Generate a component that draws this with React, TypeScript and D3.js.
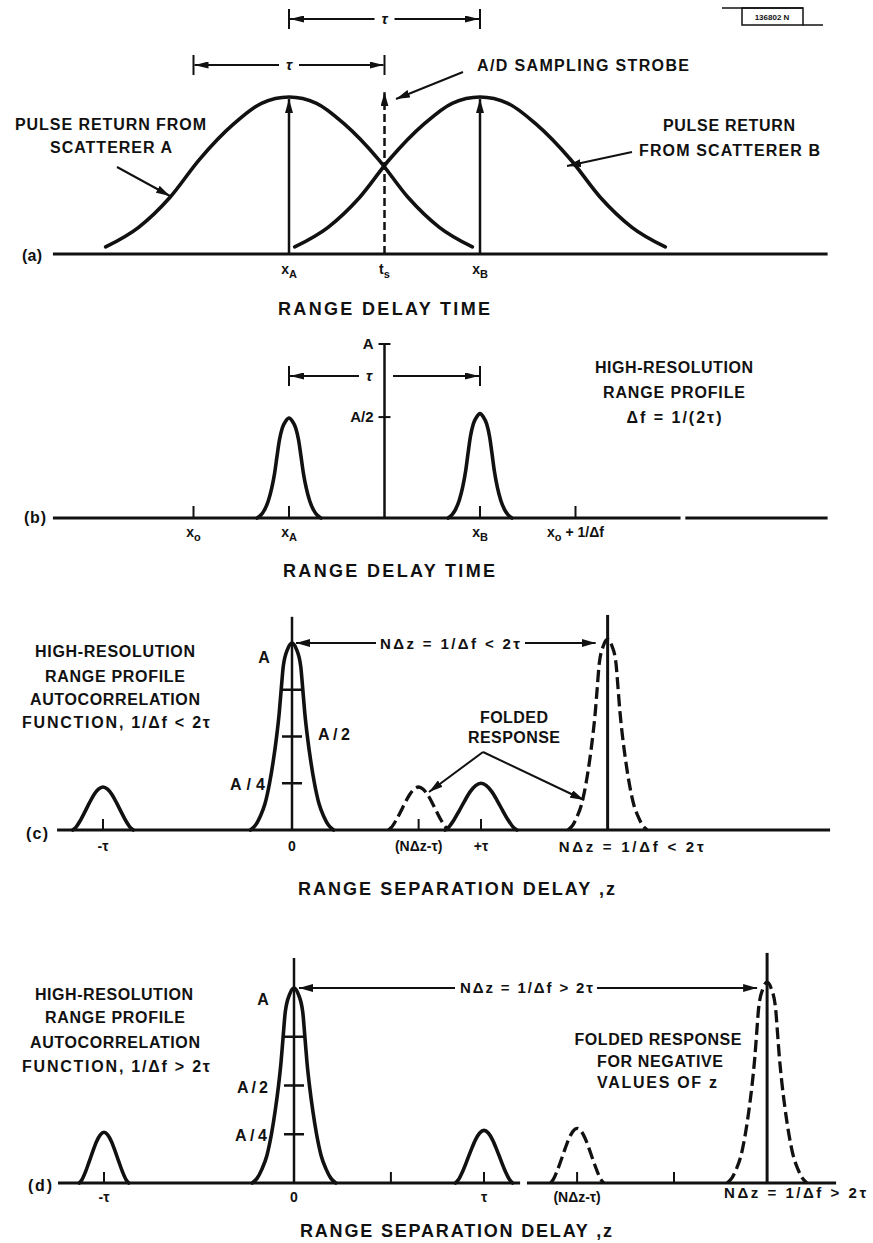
import React from "react";
import * as d3 from "d3";

const W = 873;
const H = 1243;

// Normalised pulse profiles: offset / half-width -> height / peak
const wideU = [0, 0.15, 0.3, 0.49, 0.65, 0.82, 1.0];
const wideV = [1, 0.96, 0.83, 0.6, 0.36, 0.17, 0.045];
const narrowU = [0, 0.1, 0.21, 0.3, 0.375, 0.45, 0.54, 0.65, 0.77, 0.88, 1];
const narrowV = [1, 0.97, 0.9, 0.78, 0.62, 0.45, 0.3, 0.17, 0.08, 0.03, 0];
const mainU = [0, 0.1, 0.21, 0.26, 0.31, 0.37, 0.45, 0.54, 0.65, 0.77, 0.88, 1];
const mainV = [1, 0.97, 0.875, 0.75, 0.62, 0.5, 0.37, 0.25, 0.14, 0.07, 0.025, 0];
const sideU = [0, 0.15, 0.3, 0.45, 0.6, 0.75, 0.9, 1];
const sideV = [1, 0.95, 0.82, 0.63, 0.42, 0.22, 0.06, 0];

// Panel (a): range delay time, units of tau, x0 = 0.5
const aCenters = [1, 2];
const aHeights = [1, 1];
const aHalfWidths = [0.96, 0.97];
const aStrobe = 1.5;
const aStrobeTop = 1.03;
const aBaseline = [-0.236, 3.82];
const aTickVals = [1, 1.5, 2];
const aTickMain = ["x", "t", "x"];
const aTickSub = ["A", "s", "B"];

// Panel (b)
const bCenters = [1, 2];
const bHeights = [0.575, 0.6];
const bHalfWidths = [0.167, 0.167];
const bBaseline = [[-0.236, 3.05], [3.075, 3.82]];
const bTickVals = [0.5, 1, 2, 2.5];
const bTickMain = ["x", "x", "x", "x"];
const bTickSub = ["o", "A", "B", "o"];
const bTickTail = ["", "", "", " + 1/Δf"];
const bAxisAt = 1.5;
const bAxisLevels = [1, 0.58];
const bAxisLabels = ["A", "A/2"];

// Panel (c): range separation delay z, units of tau
const cNdz = 1.67;
const cSolidCenters = [-1, 0, 1];
const cSolidHeights = [0.23, 1, 0.25];
const cSolidHW = [0.16, 0.22, 0.19];
const cDashCenters = [0.67, 1.67];
const cDashHeights = [0.23, 1.02];
const cDashHW = [0.16, 0.21];
const cBaseline = [[-1.243, 2.847]];
const cTickVals = [-1, 0.67, 1];
const cTickLabels = ["-τ", "0", "(NΔz-τ)", "+τ"];
const cTickLabelVals = [-1, 0, 0.67, 1];
const cAxisTop = 1.14;
const cNdzTop = 1.15;

// Panel (d)
const dNdz = 2.49;
const dSolidCenters = [-1, 0, 1];
const dSolidHeights = [0.26, 1, 0.27];
const dSolidHW = [0.13, 0.22, 0.15];
const dDashCenters = [1.49, 2.49];
const dDashHeights = [0.28, 1.03];
const dDashHW = [0.14, 0.21];
const dBaseline = [[-1.242, 1.19], [1.226, 2.853]];
const dTickVals = [-1, 0.51, 1, 1.49, 2.0];
const dTickLabels = ["-τ", "0", "τ", "(NΔz-τ)"];
const dTickLabelVals = [-1, 0, 1, 1.49];
const dAxisTop = 1.154;
const dNdzTop = 1.18;

const mainLevels = [0.75, 0.5, 0.25];

type S = (v: number) => number;

function pulse(c: number, h: number, hw: number, U: number[], V: number[], xs: S, ys: S) {
  const pts: [number, number][] = [];
  for (let i = U.length - 1; i > 0; i--) pts.push([xs(c - U[i] * hw), ys(V[i] * h)]);
  for (let i = 0; i < U.length; i++) pts.push([xs(c + U[i] * hw), ys(V[i] * h)]);
  return d3.line().curve(d3.curveMonotoneX)(pts) || "";
}

const T = ({ x, y, w, size = 16, anchor = "start", children }: any) => (
  <text x={x} y={y} fontSize={size} textAnchor={anchor} textLength={w} lengthAdjust="spacing">
    {children}
  </text>
);

const Arrow = ({ x1, y1, x2, y2, sw = 2, dash }: any) => (
  <line x1={x1} y1={y1} x2={x2} y2={y2} stroke="#111" strokeWidth={sw} strokeDasharray={dash} markerEnd="url(#ah)" />
);

const Bracket = ({ x1, x2, y, lx, gap = 10, label }: any) => (
  <g>
    <line x1={x1} y1={y - 10} x2={x1} y2={y + 10} stroke="#111" strokeWidth={2} />
    <line x1={x2} y1={y - 10} x2={x2} y2={y + 10} stroke="#111" strokeWidth={2} />
    <line x1={lx - gap} y1={y} x2={x1 + 1} y2={y} stroke="#111" strokeWidth={2} markerEnd="url(#ahs)" />
    <line x1={lx + gap} y1={y} x2={x2 - 1} y2={y} stroke="#111" strokeWidth={2} markerEnd="url(#ahs)" />
    <text x={lx} y={y + 5} fontSize={15} textAnchor="middle" fontStyle="italic">{label}</text>
  </g>
);

export default function App() {
  const xT = d3.scaleLinear().domain([0, 1]).range([98, 289]);
  const yA = d3.scaleLinear().domain([0, 1]).range([254, 97]);
  const yB = d3.scaleLinear().domain([0, 1]).range([518, 344]);
  const xC = d3.scaleLinear().domain([0, 1]).range([292, 481]);
  const yC = d3.scaleLinear().domain([0, 1]).range([830, 643]);
  const xD = d3.scaleLinear().domain([0, 1]).range([294, 484]);
  const yD = d3.scaleLinear().domain([0, 1]).range([1183, 988]);

  const ink = "#111";

  const solidSet = (centers: number[], heights: number[], hws: number[], xs: S, ys: S) =>
    centers.map((c, i) => (
      <path key={"s" + i} d={pulse(c, heights[i], hws[i], c === 0 ? mainU : sideU, c === 0 ? mainV : sideV, xs, ys)}
        fill="none" stroke={ink} strokeWidth={3.6} strokeLinejoin="round" strokeLinecap="round" />
    ));
  const dashSet = (centers: number[], heights: number[], hws: number[], xs: S, ys: S) =>
    centers.map((c, i) => (
      <path key={"d" + i} d={pulse(c, heights[i], hws[i], heights[i] > 0.5 ? mainU : sideU, heights[i] > 0.5 ? mainV : sideV, xs, ys)}
        fill="none" stroke={ink} strokeWidth={3.3} strokeDasharray="12 5" />
    ));
  const baseline = (segs: number[][], xs: S, y: number) =>
    segs.map((s, i) => <line key={"b" + i} x1={xs(s[0])} x2={xs(s[1])} y1={y} y2={y} stroke={ink} strokeWidth={3} />);
  const ticks = (vals: number[], xs: S, y: number, h: number) =>
    vals.map((v, i) => <line key={"t" + i} x1={xs(v)} x2={xs(v)} y1={y} y2={y - h} stroke={ink} strokeWidth={2} />);
  const levelMarks = (xs: S, ys: S, widths: number[]) =>
    mainLevels.map((l, i) => (
      <line key={"l" + i} x1={xs(0) - widths[i]} x2={xs(0) + widths[i]} y1={ys(l)} y2={ys(l)} stroke={ink} strokeWidth={2.5} />
    ));

  return (
    <svg width={W} height={H} style={{ position: "absolute", left: 0, top: 0, background: "#fff" }}
      fontFamily="'Liberation Sans', Arial, sans-serif" fontWeight="bold" fill={ink}>
      <defs>
        <marker id="ah" viewBox="0 0 14 8" refX="14" refY="4" markerWidth="14" markerHeight="8"
          markerUnits="userSpaceOnUse" orient="auto">
          <path d="M0,0 L14,4 L0,8 z" fill={ink} />
        </marker>
        <marker id="ahs" viewBox="0 0 14 7" refX="14" refY="3.5" markerWidth="14" markerHeight="7"
          markerUnits="userSpaceOnUse" orient="auto">
          <path d="M0,0 L14,3.5 L0,7 z" fill={ink} />
        </marker>
      </defs>
      <rect width={W} height={H} fill="#fff" />

      {/* reference box top-right */}
      <line x1={722} y1={8} x2={803} y2={8} stroke={ink} strokeWidth={1.5} />
      <rect x={742} y={8} width={61} height={17} fill="none" stroke={ink} strokeWidth={1.5} />
      <line x1={803} y1={25} x2={823} y2={25} stroke={ink} strokeWidth={1.5} />
      <text x={772} y={20} fontSize={8} textAnchor="middle">136802 N</text>

      {/* ===== Panel (a) ===== */}
      {baseline([aBaseline], xT, yA(0))}
      {aCenters.map((c, i) => (
        <path key={"a" + i} d={pulse(c, aHeights[i], aHalfWidths[i], wideU, wideV, xT, yA)}
          fill="none" stroke={ink} strokeWidth={3.6} strokeLinecap="round" />
      ))}
      {aCenters.map((c, i) => (
        <Arrow key={"aa" + i} x1={xT(c)} y1={yA(0)} x2={xT(c)} y2={yA(aHeights[i]) + 2} sw={2.5} />
      ))}
      <Arrow x1={xT(aStrobe)} y1={yA(0)} x2={xT(aStrobe)} y2={yA(aStrobeTop)} sw={2.5} dash="8 4" />
      <Bracket x1={xT(1)} x2={xT(2)} y={19} lx={xT(1.5)} label="τ" />
      <Bracket x1={xT(0.5)} x2={xT(1.5)} y={65} lx={xT(1)} label="τ" />
      <Arrow x1={117} y1={167} x2={170} y2={196} />
      <Arrow x1={632} y1={152} x2={567} y2={166} />
      <Arrow x1={463} y1={72} x2={396} y2={99} />
      <T x={15} y={130} w={191}>PULSE RETURN FROM</T>
      <T x={50} y={153} w={122}>SCATTERER A</T>
      <T x={477} y={71} w={212}>A/D SAMPLING STROBE</T>
      <T x={663} y={131} w={132}>PULSE RETURN</T>
      <T x={639} y={156} w={181}>FROM SCATTERER B</T>
      <T x={22} y={261} w={20}>(a)</T>
      {aTickVals.map((v, i) => (
        <text key={"al" + i} x={xT(v)} y={274} fontSize={14} textAnchor="middle">
          {aTickMain[i]}<tspan dy={4} fontSize={11}>{aTickSub[i]}</tspan>
        </text>
      ))}
      <T x={278} y={315} w={212} size={18}>RANGE DELAY TIME</T>

      {/* ===== Panel (b) ===== */}
      {baseline(bBaseline, xT, yB(0))}
      {ticks(bTickVals, xT, yB(0), 12)}
      {bCenters.map((c, i) => (
        <path key={"bp" + i} d={pulse(c, bHeights[i], bHalfWidths[i], narrowU, narrowV, xT, yB)}
          fill="none" stroke={ink} strokeWidth={3.6} strokeLinecap="round" />
      ))}
      <line x1={xT(bAxisAt)} x2={xT(bAxisAt)} y1={yB(0)} y2={yB(1)} stroke={ink} strokeWidth={2.5} />
      {bAxisLevels.map((l, i) => (
        <g key={"bl" + i}>
          <line x1={xT(bAxisAt) - 6} x2={xT(bAxisAt) + 6} y1={yB(l)} y2={yB(l)} stroke={ink} strokeWidth={2} />
          <text x={xT(bAxisAt) - 11} y={yB(l) + 5} fontSize={15} textAnchor="end">{bAxisLabels[i]}</text>
        </g>
      ))}
      <g>
        <line x1={xT(1)} y1={366} x2={xT(1)} y2={386} stroke={ink} strokeWidth={2} />
        <line x1={xT(2)} y1={366} x2={xT(2)} y2={386} stroke={ink} strokeWidth={2} />
        <line x1={359} y1={376} x2={xT(1) + 1} y2={376} stroke={ink} strokeWidth={2} markerEnd="url(#ahs)" />
        <line x1={393} y1={376} x2={xT(2) - 1} y2={376} stroke={ink} strokeWidth={2} markerEnd="url(#ahs)" />
        <text x={369} y={381} fontSize={15} textAnchor="middle" fontStyle="italic">τ</text>
      </g>
      <T x={24} y={523} w={22}>(b)</T>
      {bTickVals.map((v, i) => (
        <text key={"btl" + i} x={xT(v)} y={537} fontSize={14} textAnchor="middle">
          {bTickMain[i]}<tspan dy={4} fontSize={11}>{bTickSub[i]}</tspan>
          {bTickTail[i] ? <tspan dy={-4}>{bTickTail[i]}</tspan> : null}
        </text>
      ))}
      <T x={283} y={577} w={212} size={18}>RANGE DELAY TIME</T>
      <T x={674} y={373} w={158} anchor="middle">HIGH-RESOLUTION</T>
      <T x={674} y={398} w={142} anchor="middle">RANGE PROFILE</T>
      <T x={674} y={423} w={95} anchor="middle">Δf = 1/(2τ)</T>

      {/* ===== Panel (c) ===== */}
      {baseline(cBaseline, xC, yC(0))}
      {ticks(cTickVals, xC, yC(0), 11)}
      {solidSet(cSolidCenters, cSolidHeights, cSolidHW, xC, yC)}
      {dashSet(cDashCenters, cDashHeights, cDashHW, xC, yC)}
      <line x1={xC(0)} x2={xC(0)} y1={yC(0)} y2={yC(cAxisTop)} stroke={ink} strokeWidth={2.5} />
      <line x1={xC(cNdz)} x2={xC(cNdz)} y1={yC(0)} y2={yC(cNdzTop)} stroke={ink} strokeWidth={3} />
      {levelMarks(xC, yC, [11, 10, 10])}
      <Arrow x1={376} y1={yC(1)} x2={xC(0) + 4} y2={yC(1)} />
      <Arrow x1={525} y1={yC(1)} x2={xC(cNdz) - 12} y2={yC(1)} />
      <T x={380} y={649} w={140} size={15}>NΔz = 1/Δf &lt; 2τ</T>
      <Arrow x1={483} y1={752} x2={429} y2={792} />
      <Arrow x1={483} y1={752} x2={584} y2={800} />
      <T x={514} y={723} w={68} anchor="middle">FOLDED</T>
      <T x={514} y={743} w={92} anchor="middle">RESPONSE</T>
      <T x={115} y={657} w={160} anchor="middle">HIGH-RESOLUTION</T>
      <T x={115} y={682} w={140} anchor="middle">RANGE PROFILE</T>
      <T x={115} y={705} w={170} anchor="middle">AUTOCORRELATION</T>
      <T x={116} y={728} w={188} anchor="middle">FUNCTION, 1/Δf &lt; 2τ</T>
      <T x={264} y={663} w={12} anchor="middle">A</T>
      <T x={318} y={740} w={32}>A/2</T>
      <T x={230} y={790} w={35}>A/4</T>
      <T x={26} y={839} w={22}>(c)</T>
      {cTickLabelVals.map((v, i) => (
        <text key={"ctl" + i} x={xC(v)} y={851} fontSize={14} textAnchor="middle">{cTickLabels[i]}</text>
      ))}
      <T x={xC(cNdz) - 49} y={852} w={145} size={15}>NΔz = 1/Δf &lt; 2τ</T>
      <T x={298} y={895} w={317} size={18}>RANGE SEPARATION DELAY ,z</T>

      {/* ===== Panel (d) ===== */}
      {baseline(dBaseline, xD, yD(0))}
      {ticks(dTickVals, xD, yD(0), 11)}
      {solidSet(dSolidCenters, dSolidHeights, dSolidHW, xD, yD)}
      {dashSet(dDashCenters, dDashHeights, dDashHW, xD, yD)}
      <line x1={xD(0)} x2={xD(0)} y1={yD(0)} y2={yD(dAxisTop)} stroke={ink} strokeWidth={2.5} />
      <line x1={xD(dNdz)} x2={xD(dNdz)} y1={yD(0)} y2={yD(dNdzTop)} stroke={ink} strokeWidth={3} />
      {levelMarks(xD, yD, [10, 10, 10])}
      <Arrow x1={455} y1={yD(1)} x2={xD(0) + 5} y2={yD(1)} />
      <Arrow x1={597} y1={yD(1)} x2={xD(dNdz) - 10} y2={yD(1)} />
      <T x={460} y={993} w={133} size={15}>NΔz = 1/Δf &gt; 2τ</T>
      <T x={658} y={1045} w={167} anchor="middle">FOLDED RESPONSE</T>
      <T x={660} y={1067} w={126} anchor="middle">FOR NEGATIVE</T>
      <T x={657} y={1088} w={120} anchor="middle">VALUES OF z</T>
      <T x={114} y={1000} w={158} anchor="middle">HIGH-RESOLUTION</T>
      <T x={115} y={1023} w={140} anchor="middle">RANGE PROFILE</T>
      <T x={115} y={1048} w={170} anchor="middle">AUTOCORRELATION</T>
      <T x={116} y={1072} w={188} anchor="middle">FUNCTION, 1/Δf &gt; 2τ</T>
      <T x={263} y={1005} w={11} anchor="middle">A</T>
      <T x={237} y={1093} w={31}>A/2</T>
      <T x={235} y={1141} w={32}>A/4</T>
      <T x={28} y={1191} w={24}>(d)</T>
      {dTickLabelVals.map((v, i) => (
        <text key={"dtl" + i} x={xD(v)} y={1202} fontSize={14} textAnchor="middle">{dTickLabels[i]}</text>
      ))}
      <T x={xD(dNdz) - 43} y={1198} w={142} size={15}>NΔz = 1/Δf &gt; 2τ</T>
      <T x={300} y={1237} w={312} size={18}>RANGE SEPARATION DELAY ,z</T>
    </svg>
  );
}
